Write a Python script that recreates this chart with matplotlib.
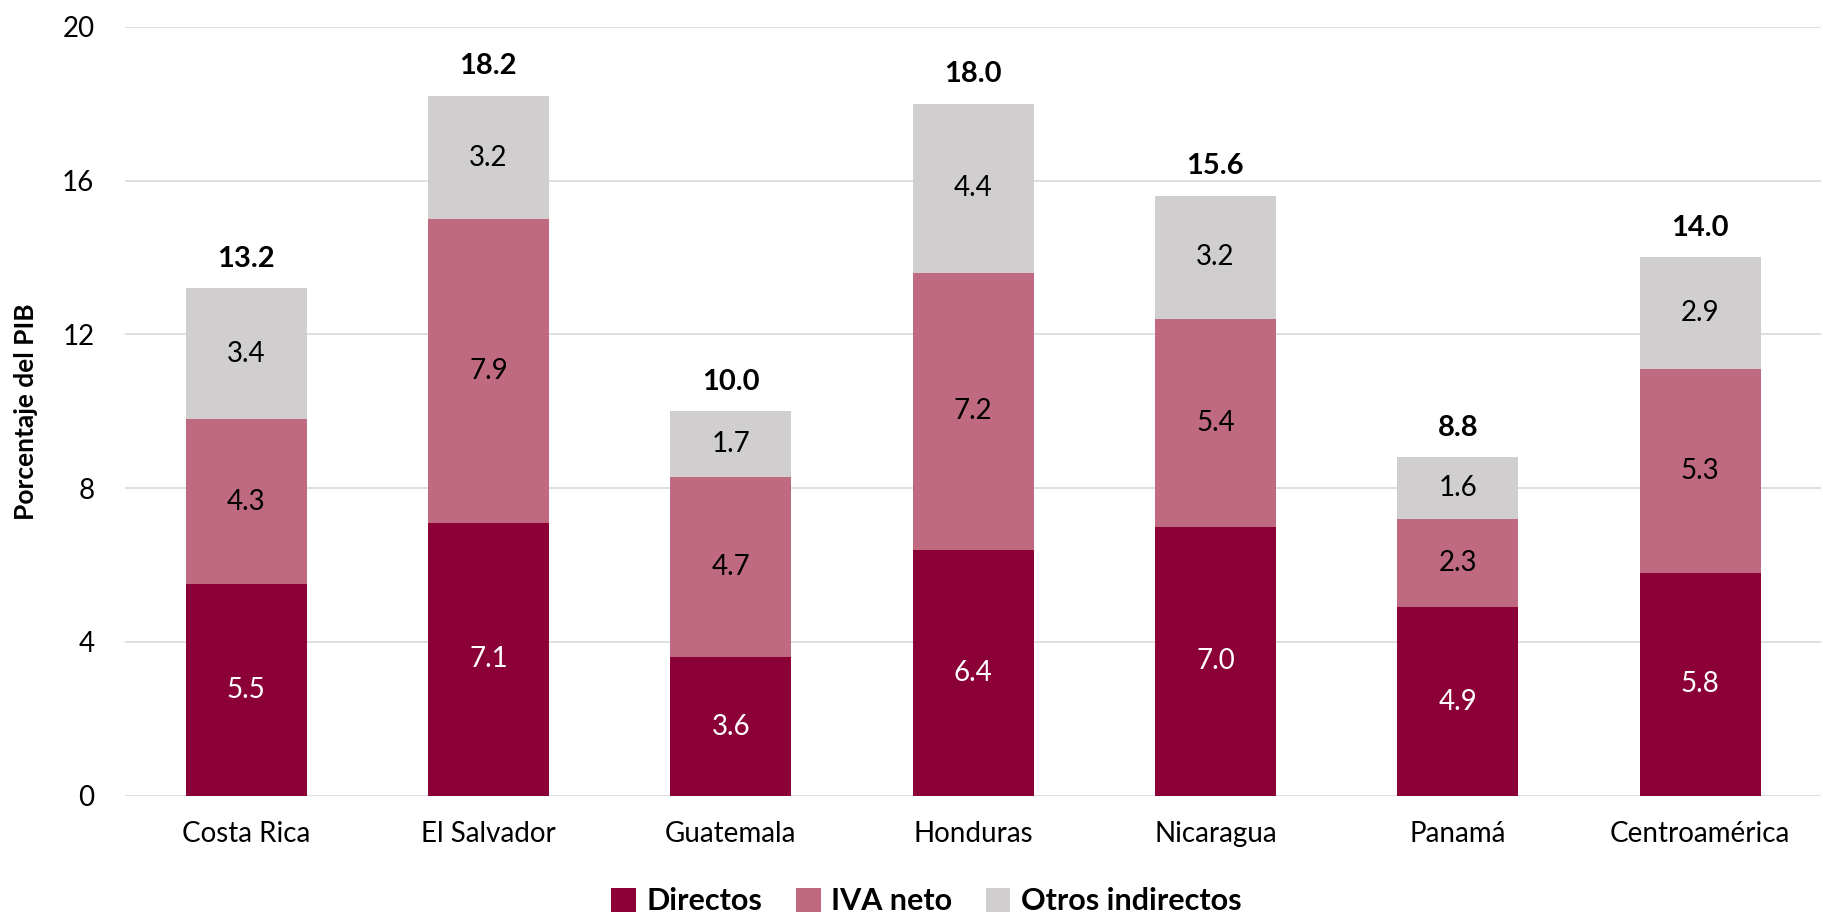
import numpy as np
import matplotlib
matplotlib.use("Agg")
import matplotlib.pyplot as plt

plt.rcParams['font.family'] = ['Lato', 'DejaVu Sans']

paises = ["Costa Rica", "El Salvador", "Guatemala", "Honduras", "Nicaragua", "Panamá", "Centroamérica"]
directos = [5.5, 7.1, 3.6, 6.4, 7.0, 4.9, 5.8]
iva_neto = [4.3, 7.9, 4.7, 7.2, 5.4, 2.3, 5.3]
otros = [3.4, 3.2, 1.7, 4.4, 3.2, 1.6, 2.9]
totales = [13.2, 18.2, 10.0, 18.0, 15.6, 8.8, 14.0]

c_dir = "#8B0036"
c_iva = "#C06A82"
c_otr = "#D0CECF"

fig = plt.figure(figsize=(18.24, 9.18), dpi=100)
ax = fig.add_axes([0.0685, 0.1332, 0.93, 0.8376])

x = np.arange(len(paises))
w = 0.5
d = np.array(directos)
i = np.array(iva_neto)
o = np.array(otros)

b1 = ax.bar(x, d, w, color=c_dir, label="Directos", zorder=3)
b2 = ax.bar(x, i, w, bottom=d, color=c_iva, label="IVA neto", zorder=3)
b3 = ax.bar(x, o, w, bottom=d + i, color=c_otr, label="Otros indirectos", zorder=3)

for k in range(len(x)):
    ax.text(x[k], d[k] / 2, f"{d[k]:.1f}", ha="center", va="center", color="white", fontsize=20, zorder=4)
    ax.text(x[k], d[k] + i[k] / 2, f"{i[k]:.1f}", ha="center", va="center", color="black", fontsize=20, zorder=4)
    ax.text(x[k], d[k] + i[k] + o[k] / 2, f"{o[k]:.1f}", ha="center", va="center", color="black", fontsize=20, zorder=4)
    ax.annotate(f"{totales[k]:.1f}", (x[k], d[k] + i[k] + o[k]), xytext=(0, 12), textcoords="offset points",
                ha="center", va="bottom", fontsize=21, fontweight="bold")

ax.set_ylim(0, 20)
ax.set_xlim(-0.5, 6.5)
ax.set_yticks([0, 4, 8, 12, 16, 20])
ax.set_xticks(x)
ax.set_xticklabels(paises)
ax.tick_params(axis="both", length=0, labelsize=20)
ax.tick_params(axis="x", pad=18)
ax.tick_params(axis="y", pad=22)
ax.grid(axis="y", color="#D9D9D9", linewidth=1.2, zorder=0)
for s in ax.spines.values():
    s.set_visible(False)

ax.set_ylabel("Porcentaje del PIB", fontsize=19, fontweight="bold")
ax.yaxis.set_label_coords(-0.051, 0.5)

fig.legend(handles=[b1, b2, b3], loc="center", bbox_to_anchor=(0.508, 0.018), ncol=3, frameon=False,
           prop={"size": 22, "weight": "bold"}, handlelength=0.8, handleheight=0.8, handletextpad=0.35,
           columnspacing=1.1)

fig.savefig("out.png", dpi=100)
